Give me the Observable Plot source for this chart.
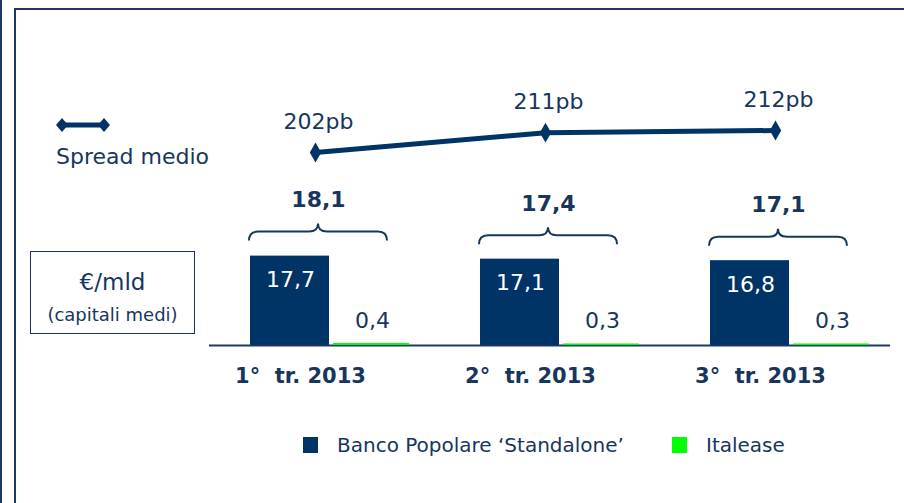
<!DOCTYPE html>
<html>
<head>
<meta charset="utf-8">
<script src="https://cdn.jsdelivr.net/npm/d3@7"></script>
<script src="https://cdn.jsdelivr.net/npm/@observablehq/plot@0.6"></script>
<style>
  html, body { margin: 0; padding: 0; background: #fff; }
  #wrap { position: relative; width: 904px; height: 503px; overflow: hidden; font-family: "DejaVu Sans", sans-serif; color: #17365D; }
  #edge { position: absolute; left: 0; top: 0; width: 2px; height: 503px; background: #1F3864; }
  #frame { position: absolute; left: 14px; top: 8px; width: 900px; height: 520px; border-left: 2px solid #1F3864; border-top: 2px solid #1F3864; }
  .layer { position: absolute; left: 0; top: 0; }
  #unit { position: absolute; left: 30px; top: 251px; width: 163px; height: 81px; border: 1.5px solid #17365D; }
  #unit .a { position: absolute; left: 0; right: 0; top: 17px; text-align: center; font-size: 23px; line-height: 26px; }
  #unit .b { position: absolute; left: 0; right: 0; top: 52px; text-align: center; font-size: 18px; line-height: 22px; }
  #lineKey { position: absolute; left: 52px; top: 113px; }
  #lineKeyText { position: absolute; left: 56px; top: 143px; font-size: 22px; line-height: 28px; }
  .leg { position: absolute; top: 436px; font-size: 20px; line-height: 18px; display: flex; align-items: center; }
  .sw { display: inline-block; width: 15px; height: 16px; margin-right: 19px; }
</style>
</head>
<body>
<div id="wrap">
  <div id="edge"></div>
  <div id="frame"></div>
  <div id="bars" class="layer"></div>
  <div id="spread" class="layer"></div>
  <svg id="lineKey" width="62" height="24">
    <line x1="10" y1="12" x2="52" y2="12" stroke="#003366" stroke-width="5"/>
    <path d="M4,12 L10,5 L16,12 L10,19 Z" fill="#003366"/>
    <path d="M46,12 L52,5 L58,12 L52,19 Z" fill="#003366"/>
  </svg>
  <div id="lineKeyText">Spread medio</div>
  <div id="unit"><div class="a">€/mld</div><div class="b">(capitali medi)</div></div>
  <div class="leg" style="left:303px"><span class="sw" style="background:#003366"></span><span>Banco Popolare ‘Standalone’</span></div>
  <div class="leg" style="left:672px"><span class="sw" style="background:#00FF00"></span><span>Italease</span></div>
</div>
<script>
// ---- data ----
const quarters = ["1°\u00a0 tr. 2013", "2°\u00a0 tr. 2013", "3°\u00a0 tr. 2013"];
const standalone = [17.7, 17.1, 16.8];
const italease = [0.4, 0.3, 0.3];
const totals = [18.1, 17.4, 17.1];
const spread = [202, 211, 212];

// ---- styles ----
const NAVY = "#003366";
const GREEN = "#00FF00";
const TEXT = "#17365D";
const RULE = "#1F3864";
const W = 904, H = 503;
const fmt = v => v.toFixed(1).replace(".", ",");

const rows = quarters.map((q, i) => ({q, standalone: standalone[i], italease: italease[i], total: totals[i], spread: spread[i]}));

const xOpts = {domain: quarters, type: "band", paddingInner: 0.306, paddingOuter: 0.13, align: 0.667, axis: null};
const mL = 209, mR = 14;
const bw = d3.scaleBand(quarters, [mL, W - mR]).paddingInner(0.306).paddingOuter(0.13).align(0.667).bandwidth();

// brace mark drawn through the plot's own scales
function braces(index, scales) {
  const g = d3.create("svg:g");
  const sx = scales.x, sy = scales.y;
  const band = typeof sx.bandwidth === "function" ? sx.bandwidth() : 0;
  rows.forEach(d => {
    const cx = sx(d.q) + band / 2 - 12;
    const half = 69;
    const yb = sy(d.total) - 13;
    const yl = yb - 9, yt = yb - 17, r = 9;
    const x0 = cx - half, x1 = cx + half;
    g.append("path")
      .attr("d", `M${x0},${yb} Q${x0},${yl} ${x0 + r},${yl} L${cx - r},${yl} Q${cx},${yl} ${cx},${yt} Q${cx},${yl} ${cx + r},${yl} L${x1 - r},${yl} Q${x1},${yl} ${x1},${yb}`)
      .attr("fill", "none").attr("stroke", TEXT).attr("stroke-width", 2);
  });
  return g.node();
}

const barPlot = Plot.plot({
  width: W, height: H,
  marginLeft: mL, marginRight: mR, marginTop: 244, marginBottom: 158,
  x: xOpts,
  y: {domain: [0, 20], axis: null},
  style: {fontFamily: "DejaVu Sans, sans-serif", background: "transparent", overflow: "visible"},
  marks: [
    Plot.ruleY([0], {stroke: RULE, strokeWidth: 2}),
    Plot.barY(rows, {x: "q", y: "standalone", fill: NAVY, insetLeft: 0, insetRight: bw / 2 + 1}),
    Plot.barY(rows, {x: "q", y: "italease", fill: GREEN, insetLeft: bw / 2 + 3, insetRight: 1}),
    Plot.text(rows, {x: "q", y: "standalone", text: d => fmt(d.standalone), fill: "white", fontSize: 22, dx: -bw / 4, dy: 24}),
    Plot.text(rows, {x: "q", y: "italease", text: d => fmt(d.italease), fill: TEXT, fontSize: 22, dx: bw / 4 + 2, dy: -23}),
    Plot.text(rows, {x: "q", y: "total", text: d => fmt(d.total), fill: TEXT, fontSize: 22, fontWeight: "bold", dx: -12, dy: -54}),
    braces,
    Plot.text(rows, {x: "q", frameAnchor: "bottom", text: "q", fill: TEXT, fontSize: 21, fontWeight: "bold", dx: -30, dy: 37})
  ]
});
document.getElementById("bars").appendChild(barPlot);

const spreadPlot = Plot.plot({
  width: W, height: H,
  marginLeft: mL, marginRight: mR, marginTop: 130, marginBottom: 351,
  x: xOpts,
  y: {domain: [202, 212], axis: null},
  style: {fontFamily: "DejaVu Sans, sans-serif", background: "transparent", overflow: "visible"},
  marks: [
    Plot.line(rows, {x: "q", y: "spread", stroke: NAVY, strokeWidth: 5, dx: -15}),
    Plot.dot(rows, {x: "q", y: "spread", symbol: "diamond", r: 6, fill: NAVY, dx: -15}),
    Plot.text(rows, {x: "q", y: "spread", text: d => d.spread + "pb", fill: TEXT, fontSize: 22, dx: -12, dy: -31})
  ]
});
document.getElementById("spread").appendChild(spreadPlot);
</script>
</body>
</html>
